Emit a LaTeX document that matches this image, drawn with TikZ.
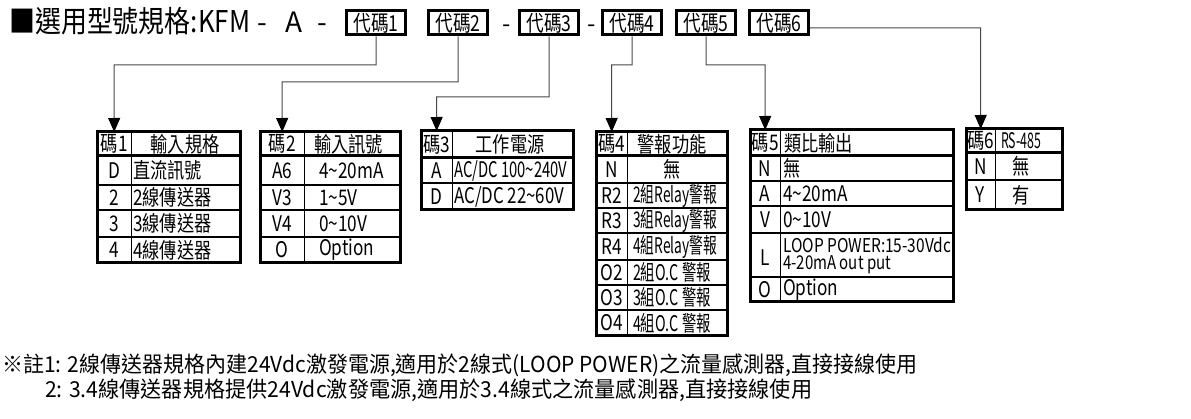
\documentclass[tikz,border=0pt]{standalone}
\usepackage{graphicx}
\usepackage{fontspec}
\setmainfont{Noto Sans CJK TC}
\newfontfamily\tf{Noto Sans CJK TC}[FakeStretch=0.8]
\usetikzlibrary{arrows.meta}
\newcommand{\fitx}[2]{\resizebox{#1}{\height}{#2}}
\begin{document}
\begin{tikzpicture}[x=1pt,y=-1pt,
  hbox/.style={draw, line width=3pt, minimum width=59pt, minimum height=24pt, inner sep=0pt, font=\tf\fontsize{22}{22}\selectfont},
  tx/.style={inner sep=0pt, font=\tf\fontsize{21.5}{21.5}\selectfont},
  kc/.style={tx, anchor=north west},
  thick3/.style={line width=3pt},
  thin1/.style={line width=1.3pt},
  conn/.style={draw=black!72, line width=1pt, -{Triangle[width=12pt,length=14pt,color=black]}}]
\useasboundingbox[fill=white] (0,0) rectangle (1191,419);

% title
\node[anchor=base west, inner sep=0pt, font=\fontsize{30}{30}\selectfont] (title) at (9,33) {\fitx{241pt}{■選用型號規格:KFM}};
\node[anchor=base, inner sep=0pt, font=\fontsize{28}{28}\selectfont] (d1) at (262,33) {-};
\node[anchor=base, inner sep=0pt, font=\fontsize{28}{28}\selectfont] (aa) at (294,33) {A};
\node[anchor=base, inner sep=0pt, font=\fontsize{28}{28}\selectfont] (d2) at (322,33) {-};
\node[hbox] (c1) at (376,23) {代碼1};
\node[hbox] (c2) at (458,23) {代碼2};
\node[anchor=base, inner sep=0pt, font=\fontsize{24}{24}\selectfont] (d3) at (507,33) {-};
\node[hbox] (c3) at (549,23) {代碼3};
\node[anchor=base, inner sep=0pt, font=\fontsize{24}{24}\selectfont] (d4) at (592,33) {-};
\node[hbox] (c4) at (632,23) {代碼4};
\node[hbox] (c5) at (706,23) {代碼5};
\node[hbox] (c6) at (779,23) {代碼6};

% ---------- table 1
\draw[thin1] (97,185)--(240,185) (97,210)--(240,210) (97,237)--(240,237);
\draw[line width=1pt] (131,132)--(131,263);
\draw[thick3] (97,156)--(240,156);
\draw[thick3] (97,132) rectangle (240,263);
\node[kc, minimum width=34pt, minimum height=24pt] (t1k) at (97,132) {碼1};
\node[tx] (t1h) at (185,144) {輸入規格};
\node[tx] (t1a1) at (114,170.5) {D};
\node[tx, anchor=west] (t1b1) at (133,170.5) {直流訊號};
\node[tx] (t1a2) at (114,197.5) {2};
\node[tx, anchor=west] (t1b2) at (133,197.5) {2線傳送器};
\node[tx] (t1a3) at (114,223.5) {3};
\node[tx, anchor=west] (t1b3) at (133,223.5) {3線傳送器};
\node[tx] (t1a4) at (114,250) {4};
\node[tx, anchor=west] (t1b4) at (133,250) {4線傳送器};

% ---------- table 2
\draw[thin1] (260,185)--(400,185) (260,210)--(400,210) (260,237)--(400,237);
\draw[line width=1pt] (304,132)--(304,263);
\draw[thick3] (260,156)--(400,156);
\draw[thick3] (260,132) rectangle (400,263);
\node[kc, minimum width=44pt, minimum height=24pt] (t2k) at (260,132) {碼2};
\node[tx, anchor=west] (t2h) at (314,144) {輸入訊號};
\node[tx] (t2a1) at (282,170.5) {A6};
\node[tx, anchor=west] (t2b1) at (319,170.5) {4\textasciitilde20mA};
\node[tx] (t2a2) at (282,197.5) {V3};
\node[tx, anchor=west] (t2b2) at (319,197.5) {1\textasciitilde5V};
\node[tx] (t2a3) at (282,223.5) {V4};
\node[tx, anchor=west] (t2b3) at (319,223.5) {0\textasciitilde10V};
\node[tx] (t2a4) at (282,250) {O};
\node[tx, anchor=west] (t2b4) at (319,250) {Option};

% ---------- table 3
\draw[thin1] (421,183)--(573,183);
\draw[line width=1pt] (452,131)--(452,210);
\draw[thick3] (421,158)--(573,158);
\draw[thick3] (421,131) rectangle (573,210);
\node[kc, minimum width=31pt, minimum height=27pt] (t3k) at (421,131) {碼3};
\node[tx] (t3h) at (510,144.5) {工作電源};
\node[tx] (t3a1) at (436.5,170.5) {A};
\node[tx, anchor=west] (t3b1) at (454,170.5) {\fitx{113pt}{AC/DC 100\textasciitilde240V}};
\node[tx] (t3a2) at (436.5,196.5) {D};
\node[tx, anchor=west] (t3b2) at (454,196.5) {\fitx{110pt}{AC/DC 22\textasciitilde60V}};

% ---------- table 4
\draw[thin1] (596,183)--(727,183) (596,208)--(727,208) (596,233)--(727,233) (596,260)--(727,260) (596,285)--(727,285) (596,310)--(727,310);
\draw[line width=1pt] (627,132)--(627,336);
\draw[thick3] (596,156)--(727,156);
\draw[thick3] (596,132) rectangle (727,336);
\node[kc, minimum width=31pt, minimum height=24pt] (t4k) at (596,132) {碼4};
\node[tx] (t4h) at (672,144) {警報功能};
\node[tx] (t4a1) at (611.5,169.5) {N};
\node[tx] (t4b1) at (672,169.5) {無};
\node[tx] (t4a2) at (611.5,195.5) {R2};
\node[tx] (t4b2) at (675,195.5) {\fitx{84pt}{2組Relay警報}};
\node[tx] (t4a3) at (611.5,220.5) {R3};
\node[tx] (t4b3) at (675,220.5) {\fitx{84pt}{3組Relay警報}};
\node[tx] (t4a4) at (611.5,246.5) {R4};
\node[tx] (t4b4) at (675,246.5) {\fitx{84pt}{4組Relay警報}};
\node[tx] (t4a5) at (611.5,272.5) {O2};
\node[tx] (t4b5) at (672,272.5) {\fitx{78pt}{2組O.C 警報}};
\node[tx] (t4a6) at (611.5,297.5) {O3};
\node[tx] (t4b6) at (672,297.5) {\fitx{78pt}{3組O.C 警報}};
\node[tx] (t4a7) at (611.5,323) {O4};
\node[tx] (t4b7) at (672,323) {\fitx{78pt}{4組O.C 警報}};

% ---------- table 5
\draw[thin1] (750,181)--(953,181) (750,206)--(953,206) (750,233)--(953,233) (750,277)--(953,277);
\draw[line width=1pt] (780,130)--(780,302);
\draw[thick3] (750,156)--(953,156);
\draw[thick3] (750,130) rectangle (953,302);
\node[kc, minimum width=30pt, minimum height=26pt] (t5k) at (750,130) {碼5};
\node[tx, anchor=west] (t5h) at (784,143) {類比輸出};
\node[tx] (t5a1) at (765,168.5) {N};
\node[tx, anchor=west] (t5b1) at (783,168.5) {無};
\node[tx] (t5a2) at (765,193.5) {A};
\node[tx, anchor=west] (t5b2) at (783,193.5) {4\textasciitilde20mA};
\node[tx] (t5a3) at (765,219.5) {V};
\node[tx, anchor=west] (t5b3) at (783,219.5) {0\textasciitilde10V};
\node[tx] (t5a4) at (765,258) {L};
\node[tx, anchor=west, align=left, font=\tf\fontsize{19}{17}\selectfont] (t5b4) at (783,256) {\fitx{168pt}{LOOP POWER:15-30Vdc}\\\fitx{108pt}{4-20mA out put}};
\node[tx] (t5a5) at (765,289.5) {O};
\node[tx, anchor=west] (t5b5) at (783,289.5) {Option};

% ---------- table 6
\draw[thin1] (966,180)--(1062,180);
\draw[line width=1pt] (995,129)--(995,210);
\draw[thick3] (966,153)--(1062,153);
\draw[thick3] (966,129) rectangle (1062,210);
\node[kc, minimum width=29pt, minimum height=24pt] (t6k) at (966,129) {碼6};
\node[tx, anchor=west] (t6h) at (1001,141) {\fitx{40pt}{RS-485}};
\node[tx] (t6a1) at (980.5,166.5) {N};
\node[tx] (t6b1) at (1021,166.5) {無};
\node[tx] (t6a2) at (980.5,195) {Y};
\node[tx] (t6b2) at (1021,195) {有};

% ---------- connectors
\coordinate (j1) at (114,65);
\coordinate (j2) at (282,82);
\coordinate (j3) at (436.5,97);
\coordinate (j4) at (611.5,65);
\coordinate (j5) at (765,65);
\coordinate (j6) at (980.5,28);
\draw[conn] (c1.south) |- (j1) -- (t1k.north);
\draw[conn] (c2.south) |- (j2) -- (t2k.north);
\draw[conn] (c3.south) |- (j3) -- (t3k.north);
\draw[conn] (c4.south) |- (j4) -- (t4k.north);
\draw[conn] (c5.south) |- (j5) -- (t5k.north);
\draw[conn] (c6.east |- j6) -- (j6) -- (t6k.north);

% ---------- notes
\node[anchor=west, inner sep=0pt, font=\fontsize{22}{22}\selectfont] (n1) at (2,365) {\fitx{915pt}{※註1: 2線傳送器規格內建24Vdc激發電源,適用於2線式(LOOP POWER)之流量感測器,直接接線使用}};
\node[anchor=west, inner sep=0pt, font=\fontsize{22}{22}\selectfont] (n2) at (45,390) {\fitx{767pt}{2: 3.4線傳送器規格提供24Vdc激發電源,適用於3.4線式之流量感測器,直接接線使用}};
\end{tikzpicture}
\end{document}
